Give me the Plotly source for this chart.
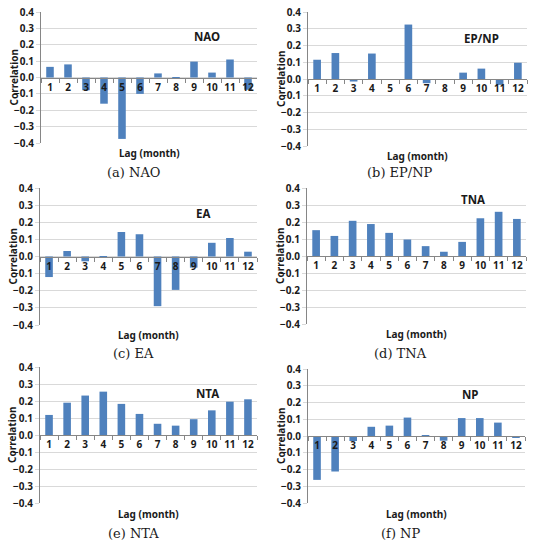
import plotly.graph_objects as go

lags = [str(i) for i in range(1, 13)]
y_ticks = [-0.4, -0.3, -0.2, -0.1, 0.0, 0.1, 0.2, 0.3, 0.4]

nao = [0.065, 0.080, -0.078, -0.160, -0.375, -0.100, 0.025, 0.003, 0.097, 0.030, 0.110, -0.075]
epnp = [0.115, 0.155, -0.015, 0.152, 0.0, 0.325, -0.025, -0.005, 0.038, 0.062, -0.035, 0.097]
ea = [-0.120, 0.032, -0.028, -0.003, 0.143, 0.130, -0.290, -0.195, -0.065, 0.080, 0.108, 0.028]
tna = [0.152, 0.118, 0.207, 0.188, 0.136, 0.097, 0.058, 0.025, 0.083, 0.222, 0.260, 0.218]
nta = [0.118, 0.190, 0.232, 0.255, 0.183, 0.124, 0.066, 0.055, 0.093, 0.145, 0.196, 0.210]
np_ = [-0.262, -0.212, -0.030, 0.055, 0.062, 0.110, 0.003, -0.028, 0.107, 0.107, 0.080, -0.008]

series_names = ["NAO", "EP/NP", "EA", "TNA", "NTA", "NP"]
series_values = [nao, epnp, ea, tna, nta, np_]
captions = ["(a) NAO", "(b) EP/NP", "(c) EA", "(d) TNA", "(e) NTA", "(f) NP"]

W, H = 535, 545
# plot-area pixel boxes in window coords: (left, right, top, bottom)
boxes = [
    (41, 257, 12, 143),
    (308, 527, 12, 146),
    (40, 257, 188, 325),
    (307, 526, 188, 324),
    (40, 257, 367, 503),
    (308, 525, 369, 503),
]
label_pos = [(0.77, 0.25), (0.79, 0.24), (0.75, 0.254), (0.76, 0.335), (0.77, 0.247), (0.747, 0.245)]
lag_title_y = [153, 156, 335, 334, 514, 514]
caption_y = [172, 172, 353, 353, 533, 533]
caption_x = [133, 400, 133, 400, 133, 400]
ytitle_x = [13, 281, 12, 280, 12, 281]


def px(x):
    return x / W


def py(y):
    return 1 - y / H


BAR = "#4f81bd"
GRID = "#d9d9d9"
AXIS = "#868686"
TXT = "#1a1a1a"
SANS = "Noto Sans"
SERIF = "DejaVu Serif"

fig = go.Figure()
layout = dict(
    width=W, height=H, margin=dict(l=0, r=0, t=0, b=0),
    paper_bgcolor="white", plot_bgcolor="white", showlegend=False,
    bargap=0.58,
)
annotations = []
for i, (name, vals, cap, box) in enumerate(zip(series_names, series_values, captions, boxes)):
    n = i + 1
    xs = "x" if n == 1 else f"x{n}"
    ys = "y" if n == 1 else f"y{n}"
    l, r, t, b = box
    xd = [px(l), px(r)]
    yd = [py(b), py(t)]
    fig.add_trace(go.Bar(x=lags, y=vals, marker=dict(color=BAR, line=dict(width=0)),
                         xaxis=xs, yaxis=ys, hoverinfo="x+y"))
    xkey = "xaxis" if n == 1 else f"xaxis{n}"
    ykey = "yaxis" if n == 1 else f"yaxis{n}"
    layout[xkey] = dict(
        domain=xd, anchor="free", position=(yd[0] + yd[1]) / 2,
        type="category", range=[-0.5, 11.5],
        showline=True, linecolor=AXIS, linewidth=1,
        ticks="outside", tickson="boundaries", ticklen=4, tickcolor=AXIS,
        showgrid=False, zeroline=False, tickangle=0, automargin=False,
        tickfont=dict(family=SANS, size=10, color=TXT, weight="bold"),
        fixedrange=True,
    )
    layout[ykey] = dict(
        domain=yd, anchor=xs, range=[-0.4, 0.4],
        tickvals=y_ticks, tickformat=".1f",
        showline=True, linecolor=AXIS, linewidth=1,
        ticks="outside", ticklen=4, tickcolor=GRID,
        showgrid=True, gridcolor=GRID, gridwidth=1, zeroline=False,
        automargin=False,
        tickfont=dict(family=SANS, size=10, color=TXT, weight="bold"),
        fixedrange=True,
    )
    lx, ly = label_pos[i]
    annotations.append(dict(
        text=name, xref=f"{xs} domain", yref=ys, x=lx, y=ly, showarrow=False,
        xanchor="center", yanchor="middle",
        font=dict(family=SANS, size=11.5, color=TXT, weight="bold")))
    annotations.append(dict(
        text="Correlation", xref="paper", yref="paper", x=px(ytitle_x[i]),
        y=(yd[0] + yd[1]) / 2, textangle=-90, showarrow=False,
        xanchor="center", yanchor="middle",
        font=dict(family=SANS, size=10, color=TXT, weight="bold")))
    annotations.append(dict(
        text="Lag (month)", xref="paper", yref="paper", x=px((l + r) / 2),
        y=py(lag_title_y[i]), showarrow=False, xanchor="center", yanchor="middle",
        font=dict(family=SANS, size=10, color=TXT, weight="bold")))
    annotations.append(dict(
        text=cap, xref="paper", yref="paper", x=px(caption_x[i]),
        y=py(caption_y[i]), showarrow=False, xanchor="center", yanchor="middle",
        font=dict(family=SERIF, size=13, color=TXT)))

layout["annotations"] = annotations
fig.update_layout(**layout)
fig.write_html(
    "out.html",
    config={"displayModeBar": False},
    post_script="document.body.style.margin='0';document.body.style.overflow='hidden';",
)
